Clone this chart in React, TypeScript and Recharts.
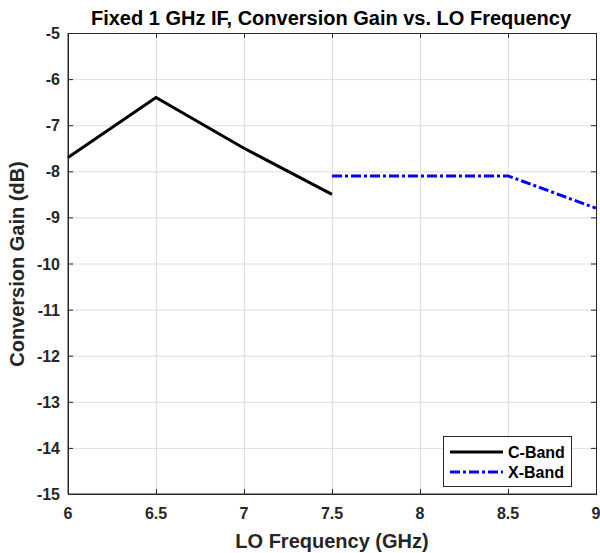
import React from "react";
import { LineChart, Line, XAxis, YAxis } from "recharts";

const freqs = [6, 6.5, 7, 7.5, 8, 8.5, 9];
const cBandGain = [-7.7, -6.4, -7.5, -8.5, null, null, null];
const xBandGain = [null, null, null, -8.1, -8.1, -8.1, -8.8];
const xTicks = [6, 6.5, 7, 7.5, 8, 8.5, 9];
const yTicks = [-15, -14, -13, -12, -11, -10, -9, -8, -7, -6, -5];

const data = freqs.map((f, i) => ({ f, c: cBandGain[i], x: xBandGain[i] }));

const FONT = "'Liberation Sans', Arial, Helvetica, sans-serif";
const AX = "#262626";
const GRID = "#dedede";
const X_MIN = 6, X_MAX = 9, Y_MIN = -15, Y_MAX = -5;

const W = 600, H = 553;
const M = { top: 33, right: 4, left: 8, bottom: 0 };
const Y_AXIS_W = 60;
const X_AXIS_H = 59;
const PLOT_L = M.left + Y_AXIS_W;
const PLOT_T = M.top;
const PLOT_W = W - M.left - M.right - Y_AXIS_W;
const PLOT_H = H - M.top - M.bottom - X_AXIS_H;
const sx = (v: number) => PLOT_L + ((v - X_MIN) / (X_MAX - X_MIN)) * PLOT_W;
const sy = (v: number) => PLOT_T + ((Y_MAX - v) / (Y_MAX - Y_MIN)) * PLOT_H;

const BottomTick = (p: any) => (
  <text x={p.x} y={p.y + 25} textAnchor="middle" fontFamily={FONT} fontWeight="bold" fontSize={16} fill="#262626">
    {p.payload.value}
  </text>
);
const LeftTick = (p: any) => (
  <text x={p.x - 8} y={p.y + 6} textAnchor="end" fontFamily={FONT} fontWeight="bold" fontSize={16} fill="#262626">
    {p.payload.value}
  </text>
);

export default function App() {
  return (
    <div style={{ position: "absolute", left: 0, top: 0, width: W, height: H, background: "#fff", fontFamily: FONT }}>
      <svg width={W} height={H} style={{ position: "absolute", left: 0, top: 0 }}>
        {xTicks.slice(1, -1).map((t) => (
          <line key={"gx" + t} x1={sx(t) + 0.5} y1={PLOT_T} x2={sx(t) + 0.5} y2={PLOT_T + PLOT_H} stroke={GRID} strokeWidth={1} />
        ))}
        {yTicks.slice(1, -1).map((t) => (
          <line key={"gy" + t} x1={PLOT_L} y1={sy(t) + 0.5} x2={PLOT_L + PLOT_W} y2={sy(t) + 0.5} stroke={GRID} strokeWidth={1} />
        ))}
        {xTicks.map((t) => (
          <g key={"tx" + t}>
            <line x1={sx(t) + 0.5} y1={PLOT_T} x2={sx(t) + 0.5} y2={PLOT_T + 5} stroke={AX} strokeWidth={1} />
            <line x1={sx(t) + 0.5} y1={PLOT_T + PLOT_H} x2={sx(t) + 0.5} y2={PLOT_T + PLOT_H - 5} stroke={AX} strokeWidth={1} />
          </g>
        ))}
        {yTicks.map((t) => (
          <g key={"ty" + t}>
            <line x1={PLOT_L} y1={sy(t) + 0.5} x2={PLOT_L + 5} y2={sy(t) + 0.5} stroke={AX} strokeWidth={1} />
            <line x1={PLOT_L + PLOT_W} y1={sy(t) + 0.5} x2={PLOT_L + PLOT_W - 5} y2={sy(t) + 0.5} stroke={AX} strokeWidth={1} />
          </g>
        ))}
        <rect x={PLOT_L + 0.5} y={PLOT_T + 0.5} width={PLOT_W} height={PLOT_H} fill="none" stroke={AX} strokeWidth={1} />
      </svg>
      <div style={{ position: "relative" }}>
        <LineChart width={W} height={H} data={data} margin={M}>
          <XAxis
            dataKey="f"
            type="number"
            domain={[X_MIN, X_MAX]}
            ticks={xTicks}
            height={X_AXIS_H}
            tickSize={0}
            tickMargin={0}
            tickLine={false}
            stroke={AX}
            tick={BottomTick}
            interval={0}
          />
          <YAxis
            type="number"
            domain={[Y_MIN, Y_MAX]}
            ticks={yTicks}
            width={Y_AXIS_W}
            tickSize={0}
            tickMargin={0}
            tickLine={false}
            stroke={AX}
            tick={LeftTick}
            interval={0}
          />
          <Line
            dataKey="c"
            stroke="#000"
            strokeWidth={3}
            dot={false}
            isAnimationActive={false}
            name="C-Band"
          />
          <Line
            dataKey="x"
            stroke="#0000ff"
            strokeWidth={3}
            strokeDasharray="10 3 3 3"
            dot={false}
            isAnimationActive={false}
            name="X-Band"
          />
        </LineChart>
      </div>
      <svg width={W} height={H} style={{ position: "absolute", left: 0, top: 0, pointerEvents: "none" }}>
        <text x={331} y={25} textAnchor="middle" fontFamily={FONT} fontWeight="bold" fontSize={20} fill="#000">
          Fixed 1 GHz IF, Conversion Gain vs. LO Frequency
        </text>
        <text x={332} y={548} textAnchor="middle" fontFamily={FONT} fontWeight="bold" fontSize={20} fill="#262626">
          LO Frequency (GHz)
        </text>
        <text x={24} y={264} textAnchor="middle" transform="rotate(-90 24 264)" fontFamily={FONT} fontWeight="bold" fontSize={20} fill="#262626">
          Conversion Gain (dB)
        </text>
        <rect x={443.5} y={436.5} width={128} height={50} fill="#fff" stroke="#262626" strokeWidth={1} />
        <line x1={450} y1={452} x2={503} y2={452} stroke="#000" strokeWidth={3} />
        <line x1={450} y1={472} x2={503} y2={472} stroke="#0000ff" strokeWidth={3} strokeDasharray="10 3 3 3" />
        <text x={508} y={458} fontFamily={FONT} fontWeight="bold" fontSize={16} fill="#000">C-Band</text>
        <text x={508} y={478} fontFamily={FONT} fontWeight="bold" fontSize={16} fill="#000">X-Band</text>
      </svg>
    </div>
  );
}
